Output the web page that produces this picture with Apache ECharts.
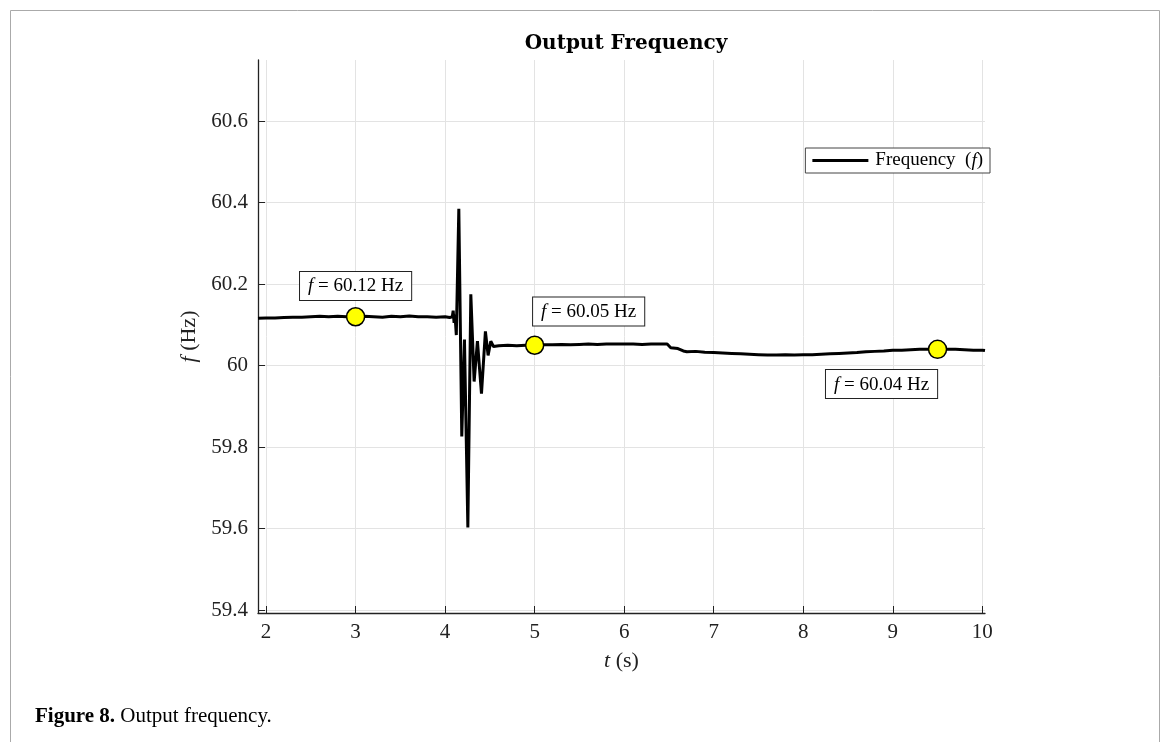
<!DOCTYPE html>
<html><head><meta charset="utf-8">
<script src="https://cdn.jsdelivr.net/npm/echarts@6/dist/echarts.min.js"></script>
<style>html,body{margin:0;padding:0;background:#fff}#c{width:1170px;height:742px}</style>
</head><body><div id="c"></div>
<script>
const timeS = [1.91,2.0,2.1,2.2,2.3,2.4,2.5,2.6,2.7,2.8,2.9,3.0,3.1,3.2,3.3,3.4,3.5,3.6,3.7,3.8,3.9,4.0,4.05,4.08,
  4.09,4.10,4.11,4.125,4.153,4.186,4.216,4.254,4.287,4.324,4.361,4.406,4.45,4.48,4.51,4.54,
  4.56,4.6,4.7,4.8,4.9,5.0,5.1,5.2,5.3,5.4,5.5,5.6,5.7,5.8,5.9,6.0,6.1,6.2,6.3,6.4,6.48,6.52,6.6,6.66,6.7,6.8,6.9,
  7.0,7.1,7.2,7.3,7.4,7.5,7.6,7.7,7.8,7.9,8.0,8.1,8.2,8.3,8.4,8.5,8.6,8.7,8.8,8.9,9.0,9.1,9.2,9.3,9.4,9.5,9.6,9.7,9.8,9.9,10.0,10.03];
const freqHz = [60.116,60.117,60.117,60.118,60.119,60.119,60.12,60.121,60.12,60.121,60.12,60.12,60.121,60.12,60.119,60.121,60.12,60.122,60.12,60.12,60.119,60.12,60.118,60.12,
  60.135,60.105,60.125,60.075,60.385,59.826,60.064,59.603,60.175,59.961,60.06,59.931,60.084,60.025,60.06,60.047,
  60.05,60.049,60.05,60.049,60.05,60.05,60.051,60.051,60.052,60.051,60.052,60.053,60.052,60.053,60.053,60.053,60.053,60.052,60.053,60.053,60.053,60.044,60.042,60.036,60.034,60.035,60.033,
  60.032,60.031,60.03,60.029,60.028,60.027,60.026,60.026,60.027,60.026,60.027,60.027,60.028,60.029,60.03,60.031,60.032,60.034,60.035,60.036,60.038,60.038,60.039,60.04,60.04,60.04,60.04,60.04,60.039,60.038,60.038,60.037];
const xTicks = [2,3,4,5,6,7,8,9,10];
const yTicks = [59.4,59.6,59.8,60,60.2,60.4,60.6];
const markerT = [3,5,9.5];
const markerF = [60.12,60.05,60.04];
const markerText = ['60.12','60.05','60.04'];

const SERIF = '"Liberation Serif","DejaVu Serif",serif';
const labelPlace = [
  {position:'top', offset:[0,5], distance:12},
  {position:'top', offset:[54,2], distance:12},
  {position:'bottom', offset:[-56,-1], distance:12}
];
const lineData = timeS.map((t,i)=>[t,freqHz[i]]);
const markerData = markerT.map((t,i)=>({
  value:[t,markerF[i]],
  label:Object.assign({show:true, formatter:'{it|f} = '+markerText[i]+' Hz'}, labelPlace[i])
}));

const chart = echarts.init(document.getElementById('c'));
chart.setOption({
  animation:false,
  backgroundColor:'#fff',
  title:{text:'Output Frequency', left:621, textAlign:'center', top:29,
    textStyle:{fontFamily:'"DejaVu Serif",serif', fontWeight:'bold', fontSize:20, color:'#000'}},
  grid:{left:258, right:185, top:60, bottom:129},
  legend:{show:true, right:180, top:148, orient:'vertical',
    backgroundColor:'#fff', borderColor:'#444', borderWidth:1, padding:[3,7,3,7],
    itemWidth:56, itemHeight:3, itemGap:0,
    data:[{name:'Frequency', icon:'rect'}],
    formatter:()=>'Frequency  ({it|f})',
    textStyle:{fontFamily:SERIF, fontSize:19, color:'#000', padding:[0,0,0,2],
      rich:{it:{fontFamily:SERIF, fontStyle:'italic', fontSize:19, color:'#000'}}}},
  xAxis:{type:'value', min:1.91, max:10.03,
    name:'{it|t} (s)', nameLocation:'middle', nameGap:37,
    nameTextStyle:{fontFamily:SERIF, fontSize:22, color:'#222',
      rich:{it:{fontFamily:SERIF, fontStyle:'italic', fontSize:22, color:'#222'}}},
    axisLine:{show:true, onZero:false, lineStyle:{color:'#222', width:1.3}},
    axisTick:{show:true, inside:true, length:7, customValues:xTicks, lineStyle:{color:'#222'}},
    axisLabel:{customValues:xTicks, fontFamily:SERIF, fontSize:21, color:'#222', margin:9},
    splitLine:{show:true, customValues:xTicks, lineStyle:{color:'#e3e3e3', width:1}}},
  yAxis:{type:'value', min:59.393, max:60.75,
    name:'{it|f} (Hz)', nameLocation:'middle', nameGap:56,
    nameTextStyle:{fontFamily:SERIF, fontSize:22, color:'#222',
      rich:{it:{fontFamily:SERIF, fontStyle:'italic', fontSize:22, color:'#222'}}},
    axisLine:{show:true, onZero:false, lineStyle:{color:'#222', width:1.3}},
    axisTick:{show:true, inside:true, length:7, customValues:yTicks, lineStyle:{color:'#222'}},
    axisLabel:{customValues:yTicks, fontFamily:SERIF, fontSize:21, color:'#222', margin:10},
    splitLine:{show:true, customValues:yTicks, lineStyle:{color:'#e3e3e3', width:1}}},
  series:[
    {name:'Frequency', type:'line', data:lineData, showSymbol:false, symbol:'none',
     lineStyle:{color:'#000', width:3}, itemStyle:{color:'#000'}, z:3},
    {name:'markers', type:'scatter', data:markerData, symbol:'circle', symbolSize:18,
     itemStyle:{color:'#ffff00', borderColor:'#000', borderWidth:1.5, opacity:1}, z:5,
     label:{show:true, fontFamily:SERIF, fontSize:19, color:'#000', backgroundColor:'#fff',
       borderColor:'#222', borderWidth:1, padding:[5,8,4,8],
       rich:{it:{fontFamily:SERIF, fontStyle:'italic', fontSize:19, color:'#000'}}}}
  ],
  graphic:[
    {type:'rect', shape:{x:10.5, y:10.5, width:1149, height:800}, style:{fill:null, stroke:'#aaa', lineWidth:1}, silent:true, z:-10},
    {type:'text', left:35, top:706, style:{text:'{b|Figure 8.} Output frequency.',
      rich:{b:{fontFamily:SERIF, fontWeight:'bold', fontSize:21, fill:'#000'}},
      fontFamily:SERIF, fontSize:21, fill:'#000'}}
  ]
});
</script></body></html>
